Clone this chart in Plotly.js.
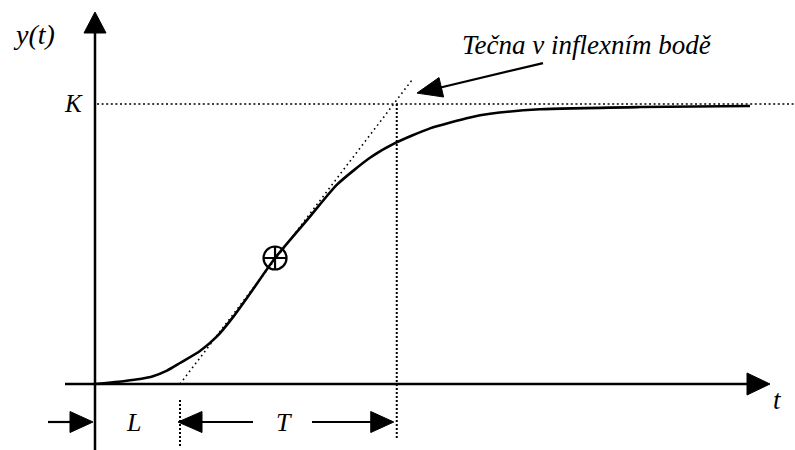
<!DOCTYPE html>
<html>
<head>
<meta charset="utf-8">
<script src="https://cdn.plot.ly/plotly-3.0.1.min.js"></script>
<style>
html,body{margin:0;padding:0;background:#fff;}
#chart{width:795px;height:450px;}
</style>
</head>
<body>
<div id="chart"></div>
<script>
// ---- data (time in units where L = 1, response normalised to K = 1) ----
const K = 1;
const L = 1;
const T = 2.55;
const curveT = [0, 0.353, 0.529, 0.682, 0.847, 1.0, 1.235, 1.435, 1.624, 1.824, 2.118, 2.529, 2.847, 3.235, 3.529, 3.941, 4.412, 4.647, 5.235, 6.412, 7.706];
const curveY = [0, 0.011, 0.018, 0.028, 0.048, 0.075, 0.118, 0.170, 0.239, 0.323, 0.45, 0.598, 0.712, 0.808, 0.860, 0.913, 0.952, 0.965, 0.981, 0.989, 0.993];
const inflT = [2.118];
const inflY = [0.45];
const tangentT = [L, 3.73];
const tangentY = [0, 1.086];
const labels = {y: 'y(t)', k: 'K', l: 'L', T: 'T', t: 't', note: 'Tečna v inflexním bodě'};

// ---- view ----
const W = 795, H = 450;
const XR = [-1.1176, 8.2353];
const YR = [-0.2357, 1.3714];
const sx = W / (XR[1] - XR[0]);
const sy = H / (YR[1] - YR[0]);
const px = p => p / sx, py = p => p / sy;

function head(tx, ty, ux, uy, len, hw) {
  const bx = -ux * len, by = -uy * len;
  const nx = -uy, ny = ux;
  const pts = [[0, 0], [bx + nx * hw, by + ny * hw], [bx - nx * hw, by - ny * hw]];
  return 'M' + pts.map(p => (tx + p[0] / sx).toFixed(5) + ',' + (ty - p[1] / sy).toFixed(5)).join('L') + 'Z';
}
const blk = '#000';
const solid = w => ({color: blk, width: w});
const fill = {type: 'path', fillcolor: blk, line: {color: blk, width: 1}, layer: 'above'};

const yTip = YR[1] - py(12);
const xTip = XR[1] - px(25);
const yArr = -py(38);
const noteFrom = [5.271, 1.146];
const noteTip = [3.788, 1.039];
let ndx = (noteTip[0] - noteFrom[0]) * sx, ndy = -(noteTip[1] - noteFrom[1]) * sy;
const nl = Math.hypot(ndx, ndy); ndx /= nl; ndy /= nl;

const shapes = [
  {type: 'line', x0: 0, x1: 0, y0: YR[0], y1: yTip - py(18), line: solid(2.5)},
  Object.assign({path: head(0, yTip, 0, -1, 21, 11)}, fill),
  {type: 'line', x0: -px(30), x1: xTip - px(18), y0: 0, y1: 0, line: solid(2.5)},
  Object.assign({path: head(xTip, 0, 1, 0, 23, 11)}, fill),
  {type: 'line', x0: px(2), x1: XR[1], y0: K, y1: K, line: {color: blk, width: 1.6, dash: '2px,2.6px'}},
  {type: 'line', x0: L + T, x1: L + T, y0: K, y1: -py(56), line: {color: blk, width: 2, dash: '2px,2px'}},
  {type: 'line', x0: L, x1: L, y0: -py(16), y1: -py(63), line: {color: blk, width: 2, dash: '2px,2px'}},
  {type: 'line', x0: -px(47), x1: -px(22), y0: yArr, y1: yArr, line: solid(2.2)},
  Object.assign({path: head(-px(2), yArr, 1, 0, 23, 10.5)}, fill),
  {type: 'line', x0: L + px(20), x1: L + px(73), y0: yArr, y1: yArr, line: solid(2.2)},
  Object.assign({path: head(L - px(2), yArr, -1, 0, 24, 10.5)}, fill),
  {type: 'line', x0: L + px(132), x1: L + T - px(20), y0: yArr, y1: yArr, line: solid(2.2)},
  Object.assign({path: head(L + T - px(3), yArr, 1, 0, 23, 10.5)}, fill),
  {type: 'line', x0: noteFrom[0], y0: noteFrom[1], x1: noteTip[0] - ndx * px(20), y1: noteTip[1] + ndy * py(20), line: solid(2.2)},
  Object.assign({path: head(noteTip[0], noteTip[1], ndx, ndy, 25, 10)}, fill)
];

const mkFont = s => ({family: 'Liberation Serif', size: s, style: 'italic', color: blk});
const ann = (x, y, text, s) => ({x: x, y: y, xref: 'x', yref: 'y', text: text, showarrow: false, font: mkFont(s), xanchor: 'center', yanchor: 'middle'});
const annotations = [
  ann(-px(61), YR[1] - py(34), labels.y, 28),
  ann(-px(22), K, labels.k, 25),
  ann(L / 2 - px(4), yArr, labels.l, 26),
  ann(L + T / 2 - px(4), yArr, labels.T, 26),
  ann(xTip + px(7), -py(16), labels.t, 27),
  ann(5.788, YR[1] - py(45), labels.note, 27)
];

const traces = [
  {x: tangentT, y: tangentY, mode: 'lines', line: {color: blk, width: 1.6, dash: '1.6px,3.4px'}, hoverinfo: 'skip'},
  {x: curveT, y: curveY, mode: 'lines', line: {color: blk, width: 2.6, shape: 'spline', smoothing: 0.6}, hoverinfo: 'skip'},
  {x: inflT, y: inflY, mode: 'markers', marker: {symbol: 'circle-cross-open', size: 23, color: blk, line: {color: blk, width: 2.2}}, hoverinfo: 'skip'}
];

const layout = {
  width: W, height: H,
  margin: {l: 0, r: 0, t: 0, b: 0},
  paper_bgcolor: '#fff', plot_bgcolor: '#fff',
  showlegend: false,
  font: {family: 'Liberation Serif', color: blk},
  xaxis: {range: XR, visible: false, fixedrange: true},
  yaxis: {range: YR, visible: false, fixedrange: true},
  shapes: shapes,
  annotations: annotations
};
Plotly.newPlot('chart', traces, layout, {staticPlot: true, displayModeBar: false});
</script>
</body>
</html>
